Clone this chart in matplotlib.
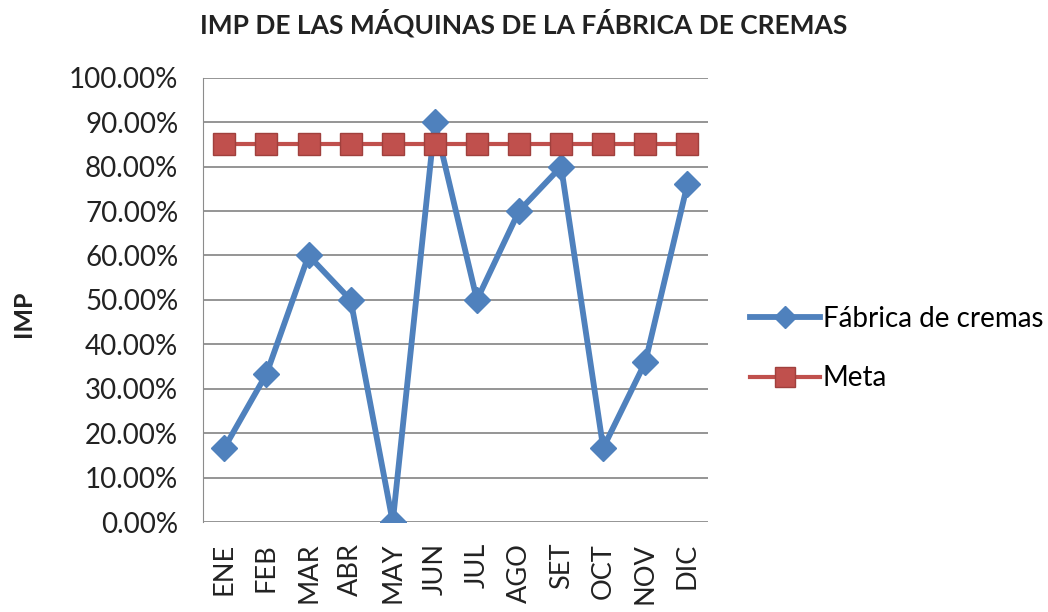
import matplotlib
matplotlib.use("Agg")
from matplotlib import pyplot as plt
import numpy as np

meses = ["ENE", "FEB", "MAR", "ABR", "MAY", "JUN", "JUL", "AGO", "SET", "OCT", "NOV", "DIC"]
fabrica = [16.67, 33.33, 60.0, 50.0, 0.0, 90.0, 50.0, 70.0, 80.0, 16.67, 36.0, 76.0]
meta = [85.0] * 12
yticks = np.arange(0, 101, 10)

plt.rcParams['font.family'] = ['Lato', 'DejaVu Sans']

fig = plt.figure(figsize=(10.48, 6.12), dpi=100)
ax = fig.add_axes([0.194, 0.147, 0.482, 0.726])

x = np.arange(len(meses))
ax.plot(x, fabrica, color="#4F81BD", lw=4.2, marker="D", ms=13,
        mfc="#4F81BD", mec="#4F81BD", label="Fábrica de cremas", zorder=3)
ax.plot(x, meta, color="#C0504D", lw=3, marker="s", ms=16.5,
        mfc="#C0504D", mec="#A0403D", mew=1, label="Meta", zorder=4)

ax.set_xlim(-0.5, 11.5)
ax.set_ylim(0, 100)
ax.set_yticks(yticks)
ax.set_yticklabels(["%.2f%%" % v for v in yticks], fontsize=20, color="#222222")
ax.set_xticks(x)
ax.set_xticklabels(meses, rotation=90, fontsize=19.5, color="#222222")
ax.tick_params(axis="y", length=0, pad=18)
ax.tick_params(axis="x", length=0, pad=15)
ax.grid(axis="y", color="#8c8c8c", lw=1.3)
ax.set_axisbelow(True)
for s in ["top", "right", "bottom"]:
    ax.spines[s].set_visible(False)
ax.spines["left"].set_color("#8c8c8c")

fig.text(0.022, 0.487, "IMP", rotation=90, fontsize=18, fontweight="bold",
         ha="center", va="center", color="#222222")
fig.text(0.5, 0.962, "IMP DE LAS MÁQUINAS DE LA FÁBRICA DE CREMAS", fontsize=19,
         fontweight="bold", ha="center", va="center", color="#222222")

ax.legend(loc="center left", bbox_to_anchor=(1.083, 0.39), frameon=False,
          fontsize=20, handlelength=2.5, handletextpad=0.1, labelspacing=1.2,
          borderpad=0, borderaxespad=0, markerscale=0.85)

plt.savefig("out.png", dpi=100)
